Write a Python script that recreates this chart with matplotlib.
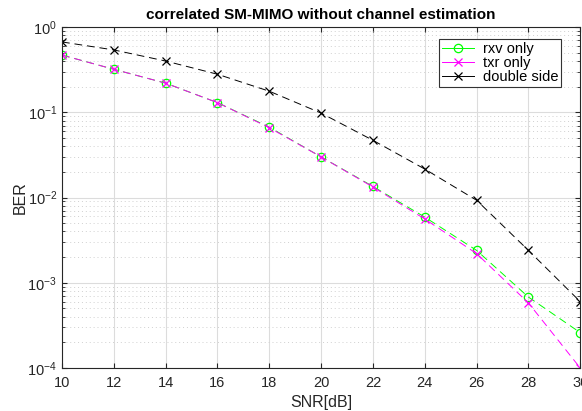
import matplotlib
matplotlib.use('Agg')
import matplotlib.pyplot as plt
from matplotlib.ticker import LogLocator, NullFormatter

plt.rcParams['font.family'] = ['Liberation Sans', 'DejaVu Sans']

snr = [10, 12, 14, 16, 18, 20, 22, 24, 26, 28, 30]
ber_rxv = [0.47, 0.32, 0.22, 0.13, 0.067, 0.030, 0.0135, 0.0059, 0.0024, 0.00068, 0.00026]
ber_txr = [0.47, 0.32, 0.22, 0.13, 0.066, 0.030, 0.0133, 0.0056, 0.0022, 0.00058, 0.0001]
ber_double = [0.67, 0.54, 0.40, 0.28, 0.177, 0.098, 0.047, 0.0216, 0.0093, 0.0024, 0.0006]

fig = plt.figure(figsize=(5.82, 4.11), dpi=100)
ax = fig.add_axes([0.1065, 0.1046, 0.8905, 0.8294])

dash = (8, 5)
ax.semilogy(snr, ber_rxv, '--o', color='#00ff00', lw=0.7, ms=6, mfc='none', mew=0.9,
            dashes=dash, label='rxv only')
ax.semilogy(snr, ber_txr, '--x', color='#ff00ff', lw=0.7, ms=6, mew=0.9,
            dashes=dash, label='txr only')
ax.semilogy(snr, ber_double, '--x', color='black', lw=0.7, ms=6, mew=0.9,
            dashes=dash, label='double side')

ax.set_xlim(10, 30)
ax.set_ylim(1e-4, 1)
ax.set_xticks(range(10, 31, 2))
ax.yaxis.set_major_locator(LogLocator(base=10, numticks=10))
ax.yaxis.set_minor_locator(LogLocator(base=10, subs=range(2, 10), numticks=10))
ax.yaxis.set_minor_formatter(NullFormatter())

ax.grid(True, which='major', color='#dcdcdc', lw=0.8, ls='-')
ax.grid(True, which='minor', axis='y', color='#d0d0d0', lw=0.7, ls=(0, (1, 3)))
ax.tick_params(which='both', direction='in', top=True, right=True, labelsize=10.5,
               color='#262626', labelcolor='#262626')
ax.tick_params(axis='x', pad=6)
for s in ax.spines.values():
    s.set_color('#262626')

ax.set_xlabel('SNR[dB]', fontsize=11.5, labelpad=3, color='#262626')
ax.set_ylabel('BER', fontsize=11.5, labelpad=0, color='#262626')
ax.set_title('correlated SM-MIMO without channel estimation', fontsize=11, fontweight='bold', pad=6)

leg = ax.legend(loc='upper right', bbox_to_anchor=(0.963, 0.965), fontsize=10.5, fancybox=False,
                edgecolor='#333333', framealpha=1, borderpad=0.2, labelspacing=0.0,
                handlelength=2.2, handletextpad=0.6, borderaxespad=0)
leg.get_frame().set_linewidth(0.8)
for h in leg.get_lines():
    h.set_linestyle('-')

fig.savefig('out.png', dpi=100)
